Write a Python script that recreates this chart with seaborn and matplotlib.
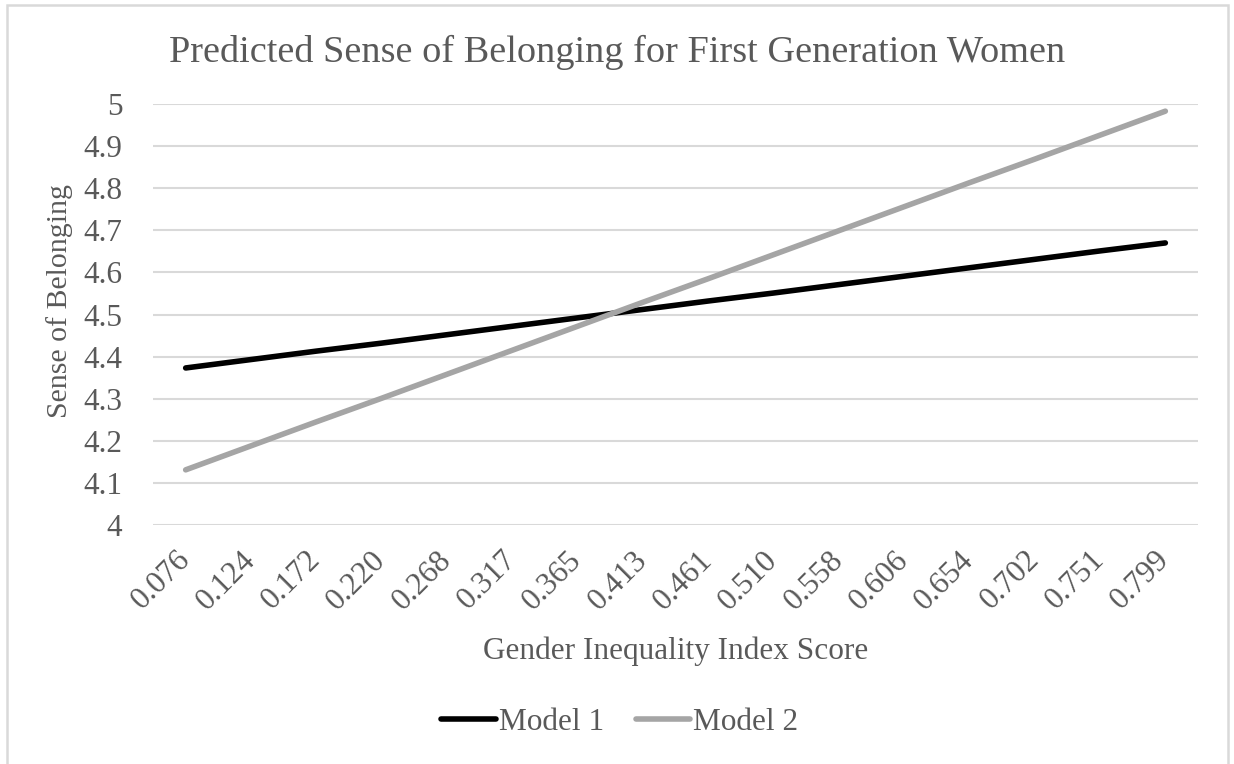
import matplotlib
matplotlib.use("Agg")
import matplotlib.pyplot as plt
import seaborn as sns
import pandas as pd
from matplotlib.patches import Rectangle

# Gender Inequality Index score categories
gii_scores = ["0.076", "0.124", "0.172", "0.220", "0.268", "0.317", "0.365", "0.413",
              "0.461", "0.510", "0.558", "0.606", "0.654", "0.702", "0.751", "0.799"]

# Predicted sense of belonging for each model
model_1 = [4.373, 4.393, 4.413, 4.432, 4.452, 4.472, 4.492, 4.512,
           4.532, 4.551, 4.571, 4.591, 4.611, 4.631, 4.651, 4.670]
model_2 = [4.131, 4.188, 4.245, 4.301, 4.358, 4.415, 4.472, 4.529,
           4.585, 4.642, 4.699, 4.756, 4.813, 4.869, 4.926, 4.983]

series_names = ["Model 1", "Model 2"]
y_ticks = [4, 4.1, 4.2, 4.3, 4.4, 4.5, 4.6, 4.7, 4.8, 4.9, 5]
y_tick_labels = ["4", "4.1", "4.2", "4.3", "4.4", "4.5", "4.6", "4.7", "4.8", "4.9", "5"]

df = pd.DataFrame({
    "score": gii_scores * 2,
    "belonging": model_1 + model_2,
    "model": [series_names[0]] * len(gii_scores) + [series_names[1]] * len(gii_scores),
})

sns.set_theme(style="white")
plt.rcParams["font.family"] = ["Liberation Serif", "DejaVu Serif"]
text_color = "#595959"
fs = 22.5

W, H = 1234, 764
fig = plt.figure(figsize=(W / 100, H / 100), dpi=100)
ax_left, ax_right, ax_top, ax_bottom = 153, 1198, 104, 525
ax = fig.add_axes([ax_left / W, 1 - ax_bottom / H, (ax_right - ax_left) / W, (ax_bottom - ax_top) / H])

# Outer chart border
fig.patches.append(Rectangle((7 / W, -0.05), (1228 - 7) / W, 1 - 5 / H + 0.05,
                             transform=fig.transFigure, fill=False,
                             edgecolor="#d9d9d9", linewidth=1.8))

sns.lineplot(data=df, x="score", y="belonging", hue="model",
             palette={"Model 1": "#000000", "Model 2": "#a5a5a5"},
             linewidth=4.0, sort=False, ax=ax, legend=False)
for line in ax.lines:
    line.set_solid_capstyle("round")

ax.set_xlim(-0.5, len(gii_scores) - 0.5)
ax.set_ylim(4, 5)
ax.set_yticks(y_ticks)
ax.set_yticklabels(y_tick_labels)
ax.yaxis.grid(True, color="#d9d9d9", linewidth=1.5)
ax.xaxis.grid(False)
ax.set_axisbelow(True)
for s in ax.spines.values():
    s.set_visible(False)

ax.tick_params(axis="y", length=0, pad=22, labelsize=fs, labelcolor=text_color)
ax.tick_params(axis="x", length=0, pad=22, labelsize=fs, labelcolor=text_color)
ax.set_xticks(range(len(gii_scores)))
ax.set_xticklabels(gii_scores, rotation=45, ha="right", va="center", rotation_mode="anchor")

ax_w, ax_h = ax_right - ax_left, ax_bottom - ax_top
xl = ax.set_xlabel("Gender Inequality Index Score", fontsize=fs, color=text_color)
xl.set_va("baseline")
ax.xaxis.set_label_coords((675.5 - ax_left) / ax_w, (ax_bottom - 659) / ax_h)
yl = ax.set_ylabel("Sense of Belonging", fontsize=21.5, color=text_color)
yl.set_va("center")
ax.yaxis.set_label_coords((60 - ax_left) / ax_w, (ax_bottom - 301) / ax_h)

fig.text(617.5 / W, 1 - 62 / H, "Predicted Sense of Belonging for First Generation Women",
         ha="center", va="baseline", fontsize=27.5, color=text_color)

handles = [plt.Line2D([], [], color="#000000", linewidth=4.0, solid_capstyle="round"),
           plt.Line2D([], [], color="#a5a5a5", linewidth=4.0, solid_capstyle="round")]
leg = fig.legend(handles, series_names, loc="center", bbox_to_anchor=(620 / W, 1 - 722 / H),
                 ncol=2, frameon=False, fontsize=fs, handlelength=1.75, handletextpad=0.1,
                 columnspacing=1.0, labelcolor=text_color)

fig.savefig("out.png", dpi=100, facecolor="white")
